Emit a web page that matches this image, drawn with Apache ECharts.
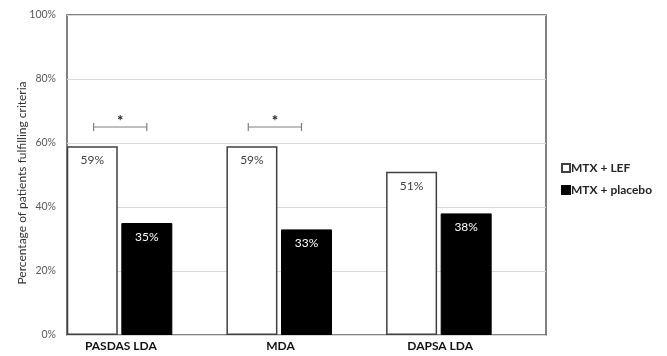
<!DOCTYPE html>
<html>
<head>
<meta charset="utf-8">
<script src="https://cdn.jsdelivr.net/npm/echarts@6/dist/echarts.min.js"></script>
<style>
  html, body { margin: 0; padding: 0; background: #fff; }
  #chart { width: 667px; height: 356px; }
</style>
</head>
<body>
<div id="chart"></div>
<script>
// Outcome categories and the share of patients meeting each criterion (%)
const categories = ['PASDAS LDA', 'MDA', 'DAPSA LDA'];
const lefValues = [59, 59, 51];
const placeboValues = [35, 33, 38];
const seriesNames = ['MTX + LEF', 'MTX + placebo'];
// Significant comparisons: category index and bracket height (%)
const sigCats = [0, 1];
const sigLevels = [65, 65];
const yTicks = [0, 20, 40, 60, 80, 100];

const FONT = 'Lato, "Open Sans", sans-serif';
const chart = echarts.init(document.getElementById('chart'));

chart.setOption({
  animation: false,
  backgroundColor: '#fff',
  grid: { left: 67, right: 121, top: 15, bottom: 21, show: true,
          borderColor: '#595959', borderWidth: 1.5, backgroundColor: 'transparent' },
  legend: {
    data: seriesNames,
    orient: 'vertical', left: 556, top: 157,
    itemWidth: 8, itemHeight: 8, itemGap: 10,
    icon: 'rect',
    textStyle: { fontFamily: FONT, fontSize: 12, fontWeight: 'bold', color: '#262626', padding: [0, 0, 0, -4] }
  },
  xAxis: {
    type: 'category',
    data: categories,
    axisLine: { show: false },
    axisTick: { show: false },
    axisLabel: { fontFamily: FONT, fontSize: 12, fontWeight: 'bold', color: '#111', margin: 5,
                 padding: [0, 52, 0, 0] }
  },
  yAxis: {
    type: 'value', min: yTicks[0], max: yTicks[yTicks.length - 1], interval: 20,
    name: 'Percentage of patients fulfilling criteria',
    nameLocation: 'middle', nameGap: 39, nameMoveOverlap: false,
    nameTextStyle: { fontFamily: FONT, fontSize: 12, color: '#333', padding: [0, 16, 0, 0] },
    axisLine: { show: false },
    axisTick: { show: false },
    splitLine: { lineStyle: { color: '#d9d9d9', width: 1 } },
    axisLabel: { fontFamily: FONT, fontSize: 10.5, color: '#595959', margin: 11,
                 formatter: '{value}%' }
  },
  series: [
    {
      name: seriesNames[0], type: 'bar', data: lefValues,
      barWidth: 51, barGap: '7%', barCategoryGap: '0%',
      itemStyle: { color: '#fff', borderColor: '#404040', borderWidth: 1.5 },
      label: { show: true, position: 'insideTop', distance: 8, formatter: '{c}%',
               fontFamily: FONT, fontSize: 12, color: '#404040' }
    },
    {
      name: seriesNames[1], type: 'bar', data: placeboValues,
      barWidth: 51, barGap: '7%',
      itemStyle: { color: '#000', borderColor: '#000', borderWidth: 1 },
      label: { show: true, position: 'insideTop', distance: 8, formatter: '{c}%',
               fontFamily: FONT, fontSize: 12, color: '#fff' }
    },
    {
      // empty third slot keeps the bar pair on the left of each category
      name: 'spacer', type: 'bar', data: categories.map(() => null),
      barWidth: 51, barGap: '7%', silent: true
    },
    {
      name: 'significance', type: 'custom', silent: true, z: 5,
      data: sigCats.map((c, i) => [c, sigLevels[i]]),
      renderItem: function (params, api) {
        const p = api.coord([api.value(0), api.value(1)]);
        const band = api.size([1, 0])[0];
        const cx = p[0] - band / 6 - (api.value(0) === 1 ? 5 : 0);
        const half = band / 6;
        const y = p[1];
        const stroke = { stroke: '#7f7f7f', lineWidth: 1.2 };
        return {
          type: 'group',
          children: [
            { type: 'line', shape: { x1: cx - half, y1: y, x2: cx + half, y2: y }, style: stroke },
            { type: 'line', shape: { x1: cx - half, y1: y - 4, x2: cx - half, y2: y + 4 }, style: stroke },
            { type: 'line', shape: { x1: cx + half, y1: y - 4, x2: cx + half, y2: y + 4 }, style: stroke },
            { type: 'text', x: cx, y: y + 2,
              style: { text: '*', fontFamily: FONT, fontSize: 15, fontWeight: 'bold',
                       fill: '#222', align: 'center', verticalAlign: 'bottom' } }
          ]
        };
      }
    }
  ]
});
</script>
</body>
</html>
